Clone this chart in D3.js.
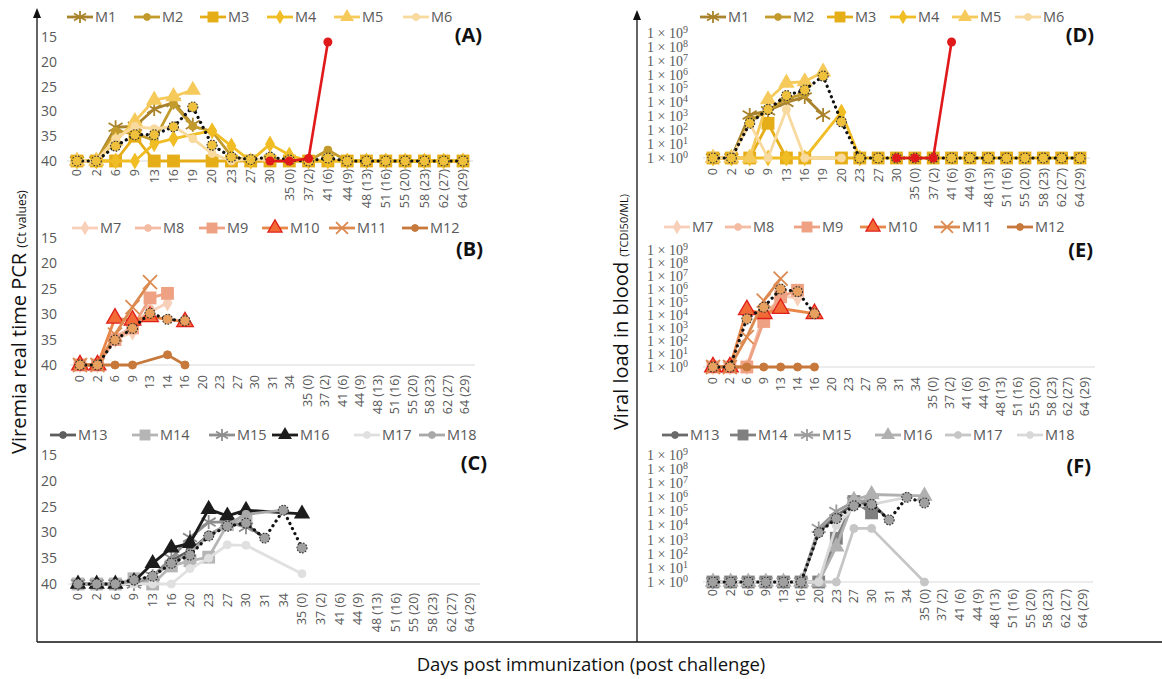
<!DOCTYPE html>
<html><head><meta charset="utf-8">
<script src="https://cdn.jsdelivr.net/npm/d3@7"></script>
<style>body{margin:0;background:#fff}svg{display:block}text{font-family:"Open Sans",sans-serif}</style>
</head><body><svg id="c" width="1162" height="679"></svg>
<script>
// ---------- categories ----------
const daysAD = ["0","2","6","9","13","16","19","20","23","27","30","35 (0)","37 (2)","41 (6)","44 (9)","48 (13)","51 (16)","55 (20)","58 (23)","62 (27)","64 (29)"];
const daysBE = ["0","2","6","9","13","14","16","20","23","27","30","31","34","35 (0)","37 (2)","41 (6)","44 (9)","48 (13)","51 (16)","55 (20)","58 (23)","62 (27)","64 (29)"];
const daysCF = ["0","2","6","9","13","16","20","23","27","30","31","34","35 (0)","37 (2)","41 (6)","44 (9)","48 (13)","51 (16)","55 (20)","58 (23)","62 (27)","64 (29)"];
const ctTicks = [15,20,25,30,35,40];
const logTicks = [0,1,2,3,4,5,6,7,8,9];
const namesA = ["M1","M2","M3","M4","M5","M6"];
const namesB = ["M7","M8","M9","M10","M11","M12"];
const namesC = ["M13","M14","M15","M16","M17","M18"];

// ---------- Panel A: Ct values ----------
const ctA_M1 = [40,40,33.2,33,29.5,28.2,32.7];
const ctA_M2 = [40,40,34,34.5,35.8,28.5,33,34,39,40,40,40,40,37.8,40,40,40,40,40,40,40];
const ctA_M3 = [40,40,40,35,40,40,null,40,40,40,40,40,40,40,40,40,40,40,40,40,40];
const ctA_M4 = [40,40,40,40,36.5,35.5,null,33.9,37,40,36.6,38.8,40,40,40,40,40,40,40,40,40];
const ctA_M5 = [40,40,36,32,27.7,27,25.7];
const ctA_M6 = [40,40,35.5,33,33.5,33,35.5,38.5,40,39.5,40];
const ctA_mean = [40,40,37,34.7,34.7,33.1,29.1,36.8,39.2,39.7,39.2,39.8,40,39.4,40,40,40,40,40,40,40];
const ctA_red = [null,null,null,null,null,null,null,null,null,null,40,40,39.5,16];

// ---------- Panel B: Ct values ----------
const ctB_M7 = [40,40,35,33.5,29.5,27.8];
const ctB_M8 = [40,40,34.5,32.5,29];
const ctB_M9 = [40,40,35,32.7,26.8,25.9];
const ctB_M10 = [40,40,30.8,31.2,30.5,null,31.5];
const ctB_M11 = [40,40,34,28.6,23.7];
const ctB_M12 = [40,40,40,40,null,38,40];
const ctB_mean = [40,40,35.1,32.8,29.8,31,31.3];

// ---------- Panel C: Ct values ----------
const ctC_M13 = [40,40,40,39.5,38.5,35.5,33.5,30.5,28.5,28.5,31.1];
const ctC_M14 = [40,40,40,39,40,36.5,35.5,34.8,28.5,27.5];
const ctC_M15 = [40,40,40,40,38.5,35,31,28,28,29];
const ctC_M16 = [40,40,40,39.5,36,33,32.1,25.5,26.8,25.7,null,null,26.4];
const ctC_M17 = [40,40,40,40,40,40,37,35,32.4,32.5,null,null,38];
const ctC_M18 = [40,40,40,39.5,38.5,36,34,30.5,28.5,26.5,null,25.7];
const ctC_mean = [40,40,40,39.2,38.5,36,34.4,30.7,28.8,28.2,31.1,25.7,33];

// ---------- Panel D: log10 viral load ----------
const logD_M1 = [0,0,3.1,3.4,4.0,4.4,3.1];
const logD_M2 = [0,0,2.7,3.4,4.3,4.6];
const logD_M3 = [0,0,0,2.5,0,0,null,0,0,0,0,0,0,0,0,0,0,0,0,0,0];
const logD_M4 = [0,0,0,0,0,0,null,3.3,0];
const logD_M5 = [0,0,0,4.2,5.4,5.5,6.2];
const logD_M6 = [0,0,2.5,0,3.5,0,null,0];
const logD_mean = [0,0,2.5,3.5,4.5,4.9,5.9,2.6,0,0,0,0,0,0,0,0,0,0,0,0,0];
const logD_red = [null,null,null,null,null,null,null,null,null,null,0,0,0,8.35];

// ---------- Panel E: log10 viral load ----------
const logE_M7 = [0,0,0,3.8,5.5,5.3];
const logE_M8 = [0,0,0,4.0,5.2];
const logE_M9 = [0,0,0,3.5,5.4,5.9];
const logE_M10 = [0,0,4.4,4.1,4.5,null,4.1];
const logE_M11 = [0,0,2.3,5.1,6.8];
const logE_M12 = [0,0,0,0,0,0,0];
const logE_mean = [0,0,3.7,4.6,6.0,5.8,4.1];

// ---------- Panel F: log10 viral load ----------
const logF_M13 = [0,0,0,0,0,0,3.5,4.7,5.5,5.6,4.4];
const logF_M14 = [0,0,0,0,0,0,0,3.1,5.7,4.9];
const logF_M15 = [0,0,0,0,0,0,3.8,5.0,5.7,5.8];
const logF_M16 = [0,0,0,0,0,0,0,2.5,5.8,6.2,null,null,6.1];
const logF_M17 = [0,0,0,0,0,0,0,0,3.8,3.8,null,null,0];
const logF_M18 = [0,0,0,0,0,0,0,4.0,5.3,5.5,null,6.0];
const logF_mean = [0,0,0,0,0,0,3.5,4.5,5.4,5.5,4.4,6.0,5.6];

// ================= drawing =================
const svg = d3.select("#c");
const TICKC = "#595959";

const stylesA = [
  {c:"#A9832B", m:"star"}, {c:"#C39B2C", m:"circle"}, {c:"#E5AE18", m:"square"},
  {c:"#F1BD25", m:"diamond"}, {c:"#F6CA5A", m:"triangle"}, {c:"#F8D99E", m:"circle"}];
const stylesB = [
  {c:"#F8CFB8", m:"diamond"}, {c:"#F4BCA3", m:"circle"}, {c:"#EFA283", m:"square"},
  {c:"#E8874A", m:"triangleRed"}, {c:"#DC8A50", m:"x"}, {c:"#C7783B", m:"circle"}];
const stylesC = [
  {c:"#5E5E5E", m:"circle"}, {c:"#B5B5B5", m:"square"}, {c:"#8E8E8E", m:"star"},
  {c:"#1C1C1C", m:"triangle"}, {c:"#E0E0E0", m:"circle"}, {c:"#A8A8A8", m:"circle"}];
const stylesF = [
  {c:"#6A6A6A", m:"circle"}, {c:"#808080", m:"square"}, {c:"#9C9C9C", m:"star"},
  {c:"#B0B0B0", m:"triangle"}, {c:"#C6C6C6", m:"circle"}, {c:"#D8D8D8", m:"circle"}];

function marker(g, type, color, big) {
  const s = big ? 1 : 0.85;
  if (type === "circle") {
    g.append("circle").attr("r", 4*s).attr("fill", color).attr("stroke", color);
  } else if (type === "square") {
    g.append("path").attr("d", d3.symbol(d3.symbolSquare, 165*s*s)()).attr("fill", color);
  } else if (type === "diamond") {
    g.append("path").attr("d", d3.symbol(d3.symbolDiamond, 85*s*s)()).attr("fill", color);
  } else if (type === "triangle") {
    g.append("path").attr("d", d3.symbol(d3.symbolTriangle, 115*s*s)()).attr("fill", color);
  } else if (type === "triangleRed") {
    g.append("path").attr("d", d3.symbol(d3.symbolTriangle, 120*s*s)()).attr("fill", "#F26A36").attr("stroke", "#E0201B").attr("stroke-width", 1.3);
  } else if (type === "star") {
    const r = 7*s;
    g.append("path").attr("d", `M${-r},${-r*0.6}L${r},${r*0.6}M${-r},${r*0.6}L${r},${-r*0.6}M0,${-r}L0,${r}`)
      .attr("stroke", color).attr("stroke-width", 1.8).attr("fill", "none");
  } else if (type === "x") {
    const r = 7*s;
    g.append("path").attr("d", `M${-r},${-r}L${r},${r}M${-r},${r}L${r},${-r}`)
      .attr("stroke", color).attr("stroke-width", 1.8).attr("fill", "none");
  }
}

function drawPanel(cfg) {
  const g = svg.append("g");
  const x = d3.scalePoint().domain(cfg.cats).range([cfg.x0, cfg.x1]);
  const y = d3.scaleLinear().domain(cfg.ydom).range(cfg.yrange);
  g.append("line").attr("x1", cfg.x0 - 10).attr("x2", cfg.x1 + 10)
    .attr("y1", y(cfg.base)).attr("y2", y(cfg.base)).attr("stroke", "#D9D9D9").attr("stroke-width", 1.2);
  const yAxis = g.append("g");
  cfg.ticks.forEach(t => {
    if (cfg.log) {
      const tx = yAxis.append("text").attr("x", cfg.tickX).attr("y", y(t)).attr("dy", "0.35em")
        .attr("text-anchor", "end").attr("fill", TICKC)
        .style("font-family", "'Liberation Serif', serif").style("font-size", "14px");
      tx.append("tspan").text("1 \u00d7 10");
      tx.append("tspan").attr("dy", "-5").style("font-size", "10px").text(t);
    } else {
      yAxis.append("text").attr("x", cfg.tickX).attr("y", y(t)).attr("dy", "0.35em")
        .attr("text-anchor", "end").attr("fill", TICKC).style("font-size", "14px").text(t);
    }
  });
  cfg.cats.forEach(c => {
    g.append("text").attr("transform", `translate(${x(c)},${cfg.labTop}) rotate(-90)`)
      .attr("dy", "0.35em").attr("text-anchor", "end").attr("fill", TICKC)
      .style("font-size", "12.5px").text(c);
  });
  const pts = vals => vals.map((v, i) => ({c: cfg.cats[i], v})).filter(d => d.v !== null && d.v !== undefined);
  const line = d3.line().x(d => x(d.c)).y(d => y(d.v));
  cfg.series.forEach((vals, k) => {
    const st = cfg.styles[k];
    const p = pts(vals);
    g.append("path").attr("d", line(p)).attr("fill", "none").attr("stroke", st.c)
      .attr("stroke-width", 2.8).attr("stroke-linejoin", "round");
    p.forEach(d => {
      const mg = g.append("g").attr("transform", `translate(${x(d.c)},${y(d.v)})`);
      marker(mg, st.m, st.c, true);
    });
  });
  const pm = pts(cfg.mean);
  g.append("path").attr("d", line(pm)).attr("fill", "none").attr("stroke", "#111")
    .attr("stroke-width", 3.2).attr("stroke-linecap", "round").attr("stroke-dasharray", "0.1,5.5");
  pm.forEach(d => {
    g.append("circle").attr("cx", x(d.c)).attr("cy", y(d.v)).attr("r", 5)
      .attr("fill", cfg.meanFill).attr("stroke", "#333").attr("stroke-width", 1.1).attr("stroke-dasharray", "1.6,1.4");
  });
  if (cfg.red) {
    const pr = pts(cfg.red);
    g.append("path").attr("d", line(pr)).attr("fill", "none").attr("stroke", "#E0191B").attr("stroke-width", 2.6);
    pr.forEach(d => g.append("circle").attr("cx", x(d.c)).attr("cy", y(d.v)).attr("r", 4.5).attr("fill", "#E0191B"));
  }
  cfg.names.forEach((n, k) => {
    const st = cfg.styles[k];
    const tx = cfg.legX[k];
    g.append("line").attr("x1", tx - 28).attr("x2", tx - 2).attr("y1", cfg.legY).attr("y2", cfg.legY)
      .attr("stroke", st.c).attr("stroke-width", 2.8);
    const mg = g.append("g").attr("transform", `translate(${tx - 15},${cfg.legY})`);
    marker(mg, st.m, st.c, false);
    g.append("text").attr("x", tx).attr("y", cfg.legY).attr("dy", "0.35em").attr("fill", TICKC)
      .style("font-size", "14.5px").text(n);
  });
  g.append("text").attr("x", cfg.lab[0]).attr("y", cfg.lab[1]).attr("text-anchor", "end")
    .style("font-size", "20px").style("font-weight", "bold").attr("fill", "#111").text(cfg.lab[2]);
}

drawPanel({cats: daysAD, x0: 77, x1: 463, ydom: [15, 40], yrange: [37, 161], base: 40, ticks: ctTicks, tickX: 57,
  labTop: 169, series: [ctA_M1, ctA_M2, ctA_M3, ctA_M4, ctA_M5, ctA_M6], styles: stylesA, mean: ctA_mean,
  meanFill: "#EFC03C", red: ctA_red, names: namesA, legX: [95, 162, 228, 295, 362, 431], legY: 17, lab: [482, 42, "(A)"]});
drawPanel({cats: daysBE, x0: 80, x1: 465, ydom: [15, 40], yrange: [238, 365], base: 40, ticks: ctTicks, tickX: 57,
  labTop: 375, series: [ctB_M7, ctB_M8, ctB_M9, ctB_M10, ctB_M11, ctB_M12], styles: stylesB, mean: ctB_mean,
  meanFill: "#E8A05E", names: namesB, legX: [100, 163, 227, 290, 357, 430], legY: 228, lab: [483, 256, "(B)"]});
drawPanel({cats: daysCF, x0: 78, x1: 470, ydom: [15, 40], yrange: [455, 584], base: 40, ticks: ctTicks, tickX: 57,
  labTop: 593, series: [ctC_M13, ctC_M14, ctC_M15, ctC_M16, ctC_M17, ctC_M18], styles: stylesC, mean: ctC_mean,
  meanFill: "#A0A0A0", names: namesC, legX: [78, 160, 237, 300, 382, 447], legY: 435, lab: [487, 470, "(C)"]});
drawPanel({cats: daysAD, x0: 713, x1: 1080, ydom: [0, 9], yrange: [158, 33], base: 0, ticks: logTicks, tickX: 688, log: true,
  labTop: 168, series: [logD_M1, logD_M2, logD_M3, logD_M4, logD_M5, logD_M6], styles: stylesA, mean: logD_mean,
  meanFill: "#EFC03C", red: logD_red, names: namesA, legX: [728, 793, 855, 918, 980, 1043], legY: 17, lab: [1094, 42, "(D)"]});
drawPanel({cats: daysBE, x0: 713, x1: 1085, ydom: [0, 9], yrange: [367, 250], base: 0, ticks: logTicks, tickX: 688, log: true,
  labTop: 377, series: [logE_M7, logE_M8, logE_M9, logE_M10, logE_M11, logE_M12], styles: stylesB, mean: logE_mean,
  meanFill: "#E8A05E", names: namesB, legX: [692, 753, 822, 888, 962, 1035], legY: 227, lab: [1093, 257, "(E)"]});
drawPanel({cats: daysCF, x0: 713, x1: 1083, ydom: [0, 9], yrange: [582, 455], base: 0, ticks: logTicks, tickX: 688, log: true,
  labTop: 589, series: [logF_M13, logF_M14, logF_M15, logF_M16, logF_M17, logF_M18], styles: stylesF, mean: logF_mean,
  meanFill: "#A0A0A0", names: namesC, legX: [690, 758, 822, 903, 973, 1045], legY: 435, lab: [1091, 473, "(F)"]});

const fr = svg.append("g").attr("stroke", "#111").attr("stroke-width", 1.3);
fr.append("line").attr("x1", 37).attr("x2", 37).attr("y1", 14).attr("y2", 642);
fr.append("line").attr("x1", 637).attr("x2", 637).attr("y1", 16).attr("y2", 642);
fr.append("line").attr("x1", 37).attr("x2", 1162).attr("y1", 642).attr("y2", 642);
svg.append("path").attr("d", "M37,8L33,18L41,18Z").attr("fill", "#111");
svg.append("path").attr("d", "M637,10L633,20L641,20Z").attr("fill", "#111");

const lt = svg.append("text").attr("transform", "translate(26,322) rotate(-90)").attr("text-anchor", "middle").attr("fill", "#111");
lt.append("tspan").style("font-size", "20px").text("Viremia real time PCR ");
lt.append("tspan").style("font-size", "12px").text("(Ct values)");
const rt = svg.append("text").attr("transform", "translate(628,312) rotate(-90)").attr("text-anchor", "middle").attr("fill", "#111");
rt.append("tspan").style("font-size", "20px").text("Viral load in blood ");
rt.append("tspan").style("font-size", "11px").text("(TCDI50/ML)");
svg.append("text").attr("x", 591).attr("y", 671).attr("text-anchor", "middle").attr("fill", "#111")
  .style("font-size", "18.5px").text("Days post immunization (post challenge)");
</script></body></html>
